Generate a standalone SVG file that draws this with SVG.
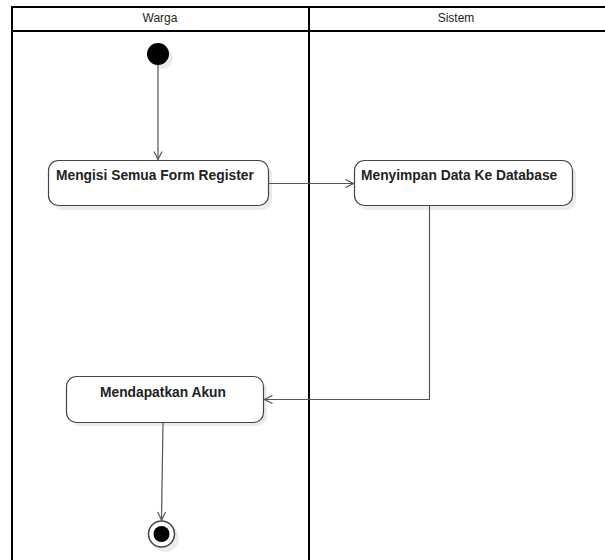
<svg xmlns="http://www.w3.org/2000/svg" width="605" height="560" viewBox="0 0 605 560">
<style>
.lane{fill:none;stroke:#000;stroke-width:2}
.hdr{font-family:"Liberation Sans",Arial,sans-serif;font-size:12px;fill:#222;text-anchor:middle}
.act{fill:#fff;stroke:#444;stroke-width:1.2}
.sh{fill:#000;opacity:0.08}
.lbl{font-family:"Liberation Sans",Arial,sans-serif;font-size:13.8px;font-weight:bold;fill:#222}
.edge{fill:none;stroke:#555;stroke-width:1.2}
</style>
<defs>
<marker id="open" viewBox="0 0 10 10" refX="9" refY="5" markerWidth="10" markerHeight="10" markerUnits="userSpaceOnUse" orient="auto">
<path d="M1,1 L9,5 L1,9" fill="none" stroke="#555" stroke-width="1.2"/>
</marker>
</defs>
<rect width="605" height="560" fill="#fff"/>
<g id="swimlanes">
<path class="lane" d="M12,560 V7 H605 M12,31 H605"/>
<path class="lane" d="M309,7 V560" stroke-width="3"/>
<text class="hdr" x="160" y="22">Warga</text>
<text class="hdr" x="456" y="22">Sistem</text>
</g>
<g id="start">
<circle class="sh" cx="162" cy="58" r="11"/>
<circle cx="158" cy="54" r="11" fill="#000"/>
</g>
<g id="a1">
<rect class="sh" x="52" y="165" width="220" height="45" rx="10"/>
<rect class="act" x="48.5" y="160.5" width="220" height="45" rx="10"/>
<text class="lbl" x="56" y="180">Mengisi Semua Form Register</text>
</g>
<g id="a2">
<rect class="sh" x="358" y="165" width="218" height="45" rx="10"/>
<rect class="act" x="354.5" y="160.5" width="218" height="45" rx="10"/>
<text class="lbl" x="361" y="180">Menyimpan Data Ke Database</text>
</g>
<g id="a3">
<rect class="sh" x="70" y="380" width="197" height="46" rx="10"/>
<rect class="act" x="66.5" y="376.5" width="197" height="46" rx="10"/>
<text class="lbl" x="163" y="397" text-anchor="middle">Mendapatkan Akun</text>
</g>
<g id="end">
<circle class="sh" cx="165" cy="538" r="14"/>
<circle cx="161.5" cy="534" r="13" fill="#fff" stroke="#444" stroke-width="1.5"/>
<circle cx="161.5" cy="534" r="8" fill="#000"/>
</g>
<g id="connectors">
<path class="edge" d="M158,65 V159.5" marker-end="url(#open)"/>
<path class="edge" d="M268.5,183.5 H353.5" marker-end="url(#open)"/>
<path class="edge" d="M429.5,205.5 V399.5 H264.5" marker-end="url(#open)"/>
<path class="edge" d="M163,422.5 L161.5,520" marker-end="url(#open)"/>
</g>
</svg>
